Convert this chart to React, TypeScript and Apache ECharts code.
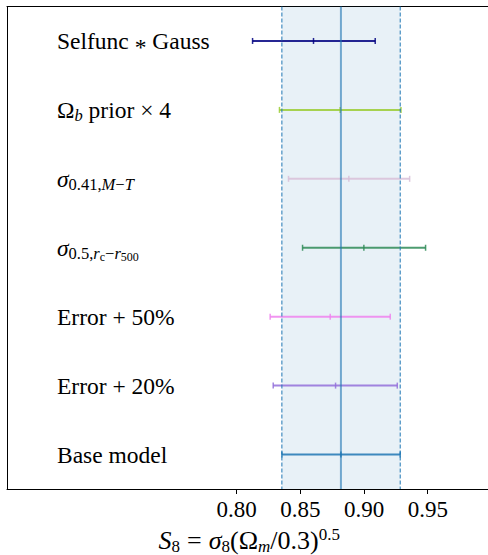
import React, { useEffect, useRef } from "react";
import * as echarts from "echarts";

// ---- data ----
const categories = [
  "{t|Selfunc }{ast|*}{t| Gauss}",
  "{t|Ω}{subi|b}{t| prior × 4}",
  "{i|σ}{sub|0.41,}{subi|M}{sub|−}{subi|T}",
  "{i|σ}{sub|0.5,}{subi|r}{ss|c}{sub|−}{subi|r}{ss|500}",
  "{t|Error + 50%}",
  "{t|Error + 20%}",
  "{t|Base model}",
];
const lowers = [0.8126, 0.8337, 0.8408, 0.8518, 0.8264, 0.8288, 0.8356];
const centers = [0.8604, 0.8813, 0.8881, 0.8999, 0.8735, 0.8777, 0.8819];
const uppers = [0.9088, 0.929, 0.9358, 0.9483, 0.9206, 0.9261, 0.9284];
const barColors = ["#000080", "#9acd32", "#d8bfd8", "#2e8b57", "#ee82ee", "#9370db", "#1f77b4"];
const bandLow = [0.8356];
const bandMid = [0.8819];
const bandHigh = [0.9284];
const tickValues = [0.8, 0.85, 0.9, 0.95];
const xMin = 0.62;
const xMax = 1.0;
const axisTitle = "{TI|S}{TS|8}{EQ|=}{TI|σ}{TS|8}{T|(Ω}{TSI|m}{T|/0.3)}{TP|0.5}";

const FONT = "Liberation Serif";

const base = { fontFamily: FONT, color: "#000", verticalAlign: "middle", fontStyle: "normal", fontWeight: "normal" };
const rich = {
  t: { ...base, fontSize: 23.5, lineHeight: 30 },
  i: { ...base, fontSize: 23.5, lineHeight: 30, fontStyle: "italic" },
  ast: { ...base, fontSize: 23.5, lineHeight: 18, padding: [12, 0, 0, 0] },
  sub: { ...base, fontSize: 16.5, lineHeight: 15, padding: [11, 0, 0, 0] },
  subi: { ...base, fontSize: 16.5, lineHeight: 15, fontStyle: "italic", padding: [11, 0, 0, 0] },
  ss: { ...base, fontSize: 12, lineHeight: 11, padding: [18, 0, 0, 0] },
  // axis title styles (larger)
  T: { ...base, fontSize: 26, lineHeight: 30 },
  TI: { ...base, fontSize: 26, lineHeight: 30, fontStyle: "italic" },
  EQ: { ...base, fontSize: 26, lineHeight: 30, padding: [0, 7, 0, 7] },
  TS: { ...base, fontSize: 17, lineHeight: 16, padding: [12, 0, 0, 0] },
  TSI: { ...base, fontSize: 17, lineHeight: 16, fontStyle: "italic", padding: [12, 0, 0, 0] },
  TP: { ...base, fontSize: 17, lineHeight: 16, padding: [0, 0, 12, 0] },
};

export default function App() {
  const ref = useRef<HTMLDivElement>(null);
  useEffect(() => {
    if (!ref.current) return;
    const chart = echarts.init(ref.current, undefined, { renderer: "svg" });
    const barData = categories.map((_, i) => [i, lowers[i], centers[i], uppers[i]]);
    const bandData = bandLow.map((_, i) => [bandLow[i], bandMid[i], bandHigh[i]]);

    const option: any = {
      animation: false,
      backgroundColor: "#fff",
      grid: {
        left: 7,
        right: -3.5,
        top: 6.5,
        bottom: 66,
        show: false,
        containLabel: false,
        outerBoundsMode: "none",
      },
      xAxis: [
        {
          type: "value",
          min: xMin,
          max: xMax,
          splitLine: { show: false },
          axisLine: { show: true, onZero: false, lineStyle: { color: "#000", width: 1 } },
          axisTick: { show: true, length: 5, customValues: tickValues, lineStyle: { color: "#000", width: 1 } },
          axisLabel: {
            customValues: tickValues,
            formatter: (v: number) => v.toFixed(2),
            margin: 9,
            fontSize: 23,
            fontFamily: FONT,
            fontStyle: "normal",
            fontWeight: "normal",
            color: "#000",
          },
          name: axisTitle,
          nameLocation: "middle",
          nameGap: 31,
          nameTextStyle: { rich, fontFamily: FONT, fontStyle: "normal", fontSize: 26, color: "#000" },
        },
        {
          type: "value",
          position: "top",
          min: xMin,
          max: xMax,
          splitLine: { show: false },
          axisLine: { show: true, onZero: false, lineStyle: { color: "#000", width: 1 } },
          axisTick: { show: false },
          axisLabel: { show: false },
        },
      ],
      yAxis: {
        type: "category",
        inverse: true,
        data: categories,
        axisLine: { show: true, lineStyle: { color: "#000", width: 1 } },
        axisTick: { show: false },
        splitLine: { show: false },
        axisLabel: {
          inside: true,
          margin: 50,
          fontFamily: FONT,
          fontStyle: "normal",
          fontWeight: "normal",
          fontSize: 23.5,
          lineHeight: 30,
          color: "#000",
          rich,
        },
      },
      series: [
        {
          type: "custom",
          z: 1,
          silent: true,
          data: bandData,
          renderItem: (params: any, api: any) => {
            const cs = params.coordSys;
            const lo = api.coord([api.value(0), 0])[0];
            const hi = api.coord([api.value(2), 0])[0];
            return {
              type: "rect",
              shape: { x: lo, y: cs.y, width: hi - lo, height: cs.height },
              style: { fill: "rgba(31,119,180,0.1)" },
            };
          },
        },
        {
          type: "custom",
          z: 2,
          silent: true,
          data: barData,
          encode: { x: [1, 2, 3], y: 0 },
          renderItem: (params: any, api: any) => {
            const idx = api.value(0);
            const pl = api.coord([api.value(1), idx]);
            const pc = api.coord([api.value(2), idx]);
            const pr = api.coord([api.value(3), idx]);
            const color = barColors[params.dataIndex];
            const cap = 3;
            const capStyle = { stroke: color, lineWidth: 1.5, opacity: 0.85 };
            return {
              type: "group",
              children: [
                {
                  type: "line",
                  shape: { x1: pl[0], y1: pl[1], x2: pr[0], y2: pr[1] },
                  style: { stroke: color, lineWidth: 2, opacity: 0.85 },
                },
                { type: "line", shape: { x1: pl[0], y1: pl[1] - cap, x2: pl[0], y2: pl[1] + cap }, style: capStyle },
                { type: "line", shape: { x1: pc[0], y1: pc[1] - cap, x2: pc[0], y2: pc[1] + cap }, style: capStyle },
                { type: "line", shape: { x1: pr[0], y1: pr[1] - cap, x2: pr[0], y2: pr[1] + cap }, style: capStyle },
              ],
            };
          },
        },
        {
          type: "custom",
          z: 3,
          silent: true,
          data: bandData,
          renderItem: (params: any, api: any) => {
            const cs = params.coordSys;
            const lo = api.coord([api.value(0), 0])[0];
            const mid = api.coord([api.value(1), 0])[0];
            const hi = api.coord([api.value(2), 0])[0];
            const dash = { stroke: "#1f77b4", lineWidth: 1, lineDash: [4, 2] };
            return {
              type: "group",
              children: [
                { type: "line", shape: { x1: lo, y1: cs.y, x2: lo, y2: cs.y + cs.height }, style: dash },
                { type: "line", shape: { x1: hi, y1: cs.y, x2: hi, y2: cs.y + cs.height }, style: dash },
                {
                  type: "line",
                  shape: { x1: mid, y1: cs.y, x2: mid, y2: cs.y + cs.height },
                  style: { stroke: "rgba(31,119,180,0.6)", lineWidth: 2 },
                },
              ],
            };
          },
        },
      ],
    };
    chart.setOption(option);
    return () => chart.dispose();
  }, []);
  return (
    <div
      ref={ref}
      style={{ position: "fixed", left: 0, top: 0, width: 488, height: 555, background: "#fff" }}
    />
  );
}
